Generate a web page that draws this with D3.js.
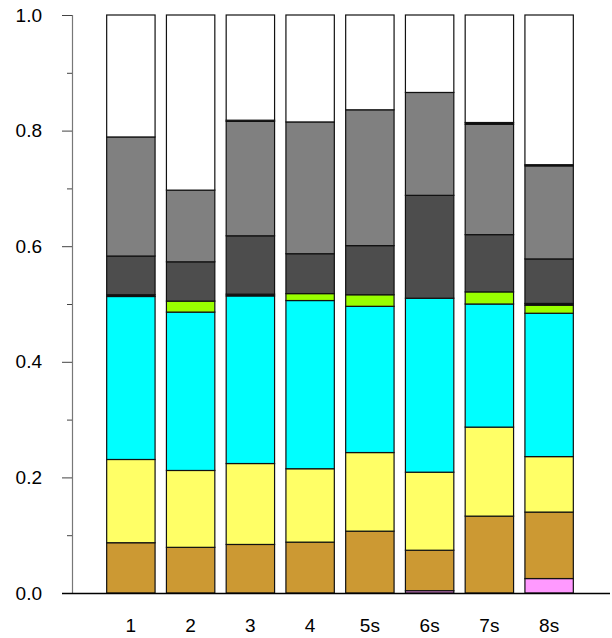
<!DOCTYPE html>
<html><head><meta charset="utf-8">
<script src="https://cdn.jsdelivr.net/npm/d3@7"></script>
<style>body{margin:0;background:#fff}svg{display:block}text{font-family:"Liberation Sans",Arial,sans-serif}</style>
</head><body><svg id="c" width="612" height="638"></svg>
<script>
const categories = ["1","2","3","4","5s","6s","7s","8s"];
const pink   = [0,     0,     0,     0,     0,     0.004, 0,     0.025];
const tan    = [0.087, 0.079, 0.084, 0.088, 0.107, 0.070, 0.133, 0.115];
const yellow = [0.144, 0.133, 0.140, 0.127, 0.136, 0.135, 0.154, 0.096];
const cyan   = [0.282, 0.274, 0.290, 0.291, 0.253, 0.301, 0.213, 0.248];
const green  = [0,     0.019, 0,     0.012, 0.020, 0,     0.021, 0.014];
const black1 = [0.003, 0,     0.003, 0,     0,     0,     0,     0.003];
const dkgray = [0.067, 0.068, 0.101, 0.069, 0.085, 0.178, 0.099, 0.077];
const gray   = [0.206, 0.124, 0.198, 0.228, 0.235, 0.178, 0.191, 0.161];
const black2 = [0,     0,     0.002, 0,     0,     0,     0.003, 0.002];
const white  = [0.211, 0.303, 0.182, 0.185, 0.164, 0.134, 0.186, 0.259];
const yTicks = [0, 0.2, 0.4, 0.6, 0.8, 1.0];
const yMinor = [0.1, 0.3, 0.5, 0.7, 0.9];

const series = {pink, tan, yellow, cyan, green, black1, dkgray, gray, black2, white};
const keys = Object.keys(series);
const colors = {pink:"#ff99ff", tan:"#cc9933", yellow:"#ffff66", cyan:"#00ffff", green:"#99ff00",
  black1:"#111111", dkgray:"#4d4d4d", gray:"#808080", black2:"#111111", white:"#ffffff"};
const table = categories.map((c,i)=>{const o={cat:c}; keys.forEach(k=>o[k]=series[k][i]); return o;});

const svg = d3.select("#c");
const x = d3.scaleBand().domain(categories).range([101, 579]).paddingInner(0.19).paddingOuter(0.095);
const y = d3.scaleLinear().domain([0,1]).range([593, 15]);

const stacked = d3.stack().keys(keys)(table);
const g = svg.append("g");
stacked.forEach(layer=>{
  g.selectAll(null).data(layer.filter(d=>d[1]-d[0]>0)).enter().append("rect")
    .attr("x", d=>x(d.data.cat))
    .attr("width", x.bandwidth())
    .attr("y", d=>y(d[1]))
    .attr("height", d=>y(d[0])-y(d[1]))
    .attr("fill", colors[layer.key])
    .attr("stroke", "#111")
    .attr("stroke-width", 1.2);
});

// y axis
const ya = svg.append("g").attr("transform","translate(72,0)")
  .call(d3.axisLeft(y).tickValues(yTicks).tickFormat(d3.format(".1f")).tickSize(10).tickPadding(20));
ya.select(".domain").attr("stroke","#777").attr("stroke-width",1.2);
ya.selectAll(".tick line").attr("stroke","#444");
ya.selectAll("text").attr("font-size",19).attr("fill","#000");
const ym = svg.append("g").attr("transform","translate(72,0)")
  .call(d3.axisLeft(y).tickValues(yMinor).tickFormat("").tickSize(5));
ym.select(".domain").remove();
ym.selectAll(".tick line").attr("stroke","#444");

// x axis
const xa = svg.append("g").attr("transform","translate(0,593)")
  .call(d3.axisBottom(x).tickSize(0).tickPadding(26));
xa.select(".domain").remove();
xa.selectAll("text").attr("font-size",19).attr("fill","#000");
svg.append("line").attr("x1",62).attr("x2",610).attr("y1",593.5).attr("y2",593.5)
  .attr("stroke","#000").attr("stroke-width",1.5);
</script></body></html>
